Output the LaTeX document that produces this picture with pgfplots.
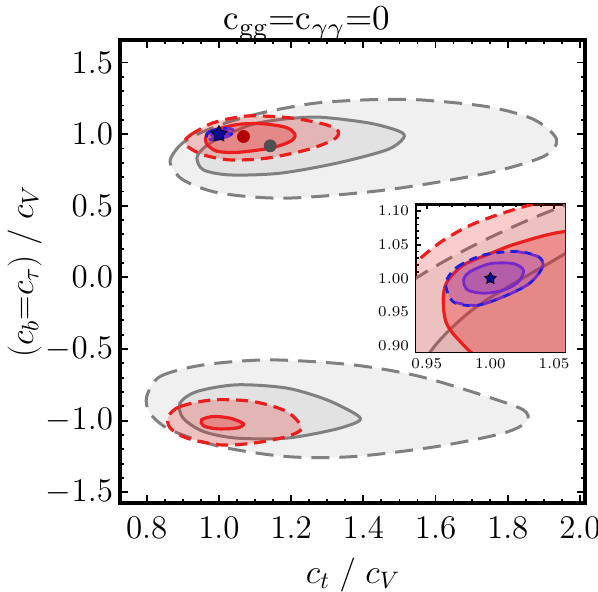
\RequirePackage{fix-cm}
\documentclass[border=0pt]{standalone}
\usepackage{graphicx}
\usepackage{pgfplots}
\usepackage{pgfplotstable}
\pgfplotsset{compat=1.18}

\definecolor{gline}{RGB}{128,128,128}
\definecolor{gfillA}{RGB}{240,240,240}
\definecolor{gfillB}{RGB}{226,226,226}
\definecolor{rline}{RGB}{235,30,30}
\definecolor{bline}{RGB}{30,30,220}
\definecolor{pline}{RGB}{120,40,200}
\definecolor{starblue}{RGB}{10,10,150}
\definecolor{rdot}{RGB}{180,0,0}
\definecolor{gdot}{RGB}{80,80,80}

% filled five-pointed star
\pgfdeclareplotmark{fstar}{%
  \pgfpathmoveto{\pgfpointpolar{90}{\pgfplotmarksize}}%
  \pgfpathlineto{\pgfpointpolar{126}{0.55\pgfplotmarksize}}%
  \pgfpathlineto{\pgfpointpolar{162}{\pgfplotmarksize}}%
  \pgfpathlineto{\pgfpointpolar{198}{0.55\pgfplotmarksize}}%
  \pgfpathlineto{\pgfpointpolar{234}{\pgfplotmarksize}}%
  \pgfpathlineto{\pgfpointpolar{270}{0.55\pgfplotmarksize}}%
  \pgfpathlineto{\pgfpointpolar{306}{\pgfplotmarksize}}%
  \pgfpathlineto{\pgfpointpolar{342}{0.55\pgfplotmarksize}}%
  \pgfpathlineto{\pgfpointpolar{18}{\pgfplotmarksize}}%
  \pgfpathlineto{\pgfpointpolar{54}{0.55\pgfplotmarksize}}%
  \pgfpathclose
  \pgfusepathqfillstroke
}

% contours, upper branch
\pgfplotstableread{
x y
0.865 0.797
0.878 0.880
0.903 0.945
0.943 1.002
0.987 1.049
1.039 1.094
1.105 1.140
1.180 1.180
1.280 1.220
1.420 1.240
1.557 1.239
1.742 1.192
1.870 1.105
1.935 0.965
1.900 0.845
1.742 0.727
1.465 0.611
1.188 0.553
1.003 0.588
0.901 0.680
}\ugd
\pgfplotstableread{
x y
0.939 0.832
0.954 0.894
0.987 0.955
1.039 1.015
1.095 1.070
1.180 1.105
1.280 1.118
1.419 1.076
1.502 1.017
1.511 0.971
1.465 0.890
1.326 0.797
1.169 0.727
1.031 0.715
0.957 0.750
}\ugs
\pgfplotstableread{
x y
0.906 0.955
0.922 0.995
0.943 1.027
0.961 1.054
0.982 1.077
1.005 1.094
1.040 1.113
1.095 1.128
1.206 1.111
1.299 1.064
1.331 1.017
1.317 0.960
1.243 0.890
1.132 0.832
1.031 0.820
0.957 0.855
0.915 0.910
}\urd
\pgfplotstableread{
x y
0.963 0.970
0.966 0.995
0.979 1.020
1.000 1.037
1.021 1.052
1.060 1.070
1.123 1.072
1.188 1.045
1.211 0.994
1.197 0.948
1.142 0.902
1.049 0.872
0.995 0.880
0.974 0.911
0.965 0.936
}\urs
\pgfplotstableread{
x y
0.965 0.993
0.974 1.017
0.995 1.035
1.021 1.040
1.038 1.032
1.041 1.017
1.031 0.993
1.013 0.975
0.990 0.960
0.971 0.965
}\bd
\pgfplotstableread{
x y
1.021 1.040
1.038 1.032
1.041 1.017
1.031 0.993
1.013 0.975
0.990 0.960
0.971 0.965
}\bdp
\pgfplotstableread{
x y
0.979 0.998
0.984 1.010
1.000 1.022
1.018 1.022
1.026 1.012
1.022 0.995
1.011 0.983
0.995 0.978
0.982 0.983
}\ps

% contours, lower branch
\pgfplotstableread{
x y
0.800 -0.832
0.837 -0.692
0.957 -0.611
1.142 -0.576
1.372 -0.611
1.557 -0.692
1.742 -0.832
1.843 -0.925
1.853 -1.006
1.788 -1.087
1.603 -1.181
1.372 -1.251
1.188 -1.251
1.003 -1.181
0.865 -1.064
0.809 -0.948
}\lgd
\pgfplotstableread{
x y
0.892 -0.878
0.939 -0.797
1.049 -0.750
1.188 -0.773
1.299 -0.855
1.382 -0.960
1.386 -1.006
1.317 -1.064
1.188 -1.122
1.049 -1.122
0.957 -1.076
0.901 -0.983
}\lgs
\pgfplotstableread{
x y
0.860 -0.971
0.892 -0.902
0.984 -0.855
1.095 -0.867
1.188 -0.937
1.229 -1.052
1.188 -1.111
1.095 -1.157
1.003 -1.169
0.911 -1.122
0.865 -1.052
}\lrd
\pgfplotstableread{
x y
0.952 -0.994
0.984 -0.971
1.031 -0.983
1.068 -1.022
1.049 -1.052
0.994 -1.057
0.957 -1.036
}\lrs

\pgfplotsset{
  gd/.style={smooth cycle, draw=gline, line width=1.5pt, dash pattern=on 9pt off 5pt, fill=gfillA},
  gs/.style={smooth cycle, draw=gline, line width=1.5pt, fill=gfillB},
  rd/.style={smooth cycle, draw=rline, line width=1.6pt, dash pattern=on 6pt off 3.5pt, fill=rline, fill opacity=0.22},
  rs/.style={smooth cycle, draw=rline, line width=1.6pt, fill=rline, fill opacity=0.3},
  bdash/.style={smooth cycle, draw=bline, line width=1.4pt, dash pattern=on 4pt off 3pt, fill=pline, fill opacity=0.25},
  pdash/.style={smooth, draw=pline, line width=1.4pt, dash pattern=on 4pt off 3pt},
  psol/.style={smooth cycle, draw=pline, line width=1.4pt, fill=pline, fill opacity=0.3},
  frame/.style={
    scale only axis,
    tick align=inside,
    every tick/.style={black, line width=0.9pt},
  },
}

\begin{document}
\begin{tikzpicture}
\useasboundingbox (-60pt,-44.5pt) rectangle (239pt,251.5pt);
\begin{axis}[
  frame,
  name=main,
  at={(0,0)}, anchor=south west,
  width=232.5pt, height=231.5pt,
  xmin=0.726, xmax=2.014,
  ymin=-1.575, ymax=1.657,
  xtick={0.8,1.0,...,2.0},
  ytick={-1.5,-1.0,...,1.5},
  minor x tick num=3,
  minor y tick num=4,
  major tick length=4pt,
  minor tick length=2.2pt,
  axis line style={line width=1.6pt},
  xticklabel style={font=\fontsize{16.5}{18}\selectfont, yshift=-3.5pt,
    /pgf/number format/.cd, fixed, fixed zerofill, precision=1},
  yticklabel style={font=\fontsize{16.5}{18}\selectfont,
    /pgf/number format/.cd, fixed, fixed zerofill, precision=1},
  xlabel={$c_t\;/\;c_V$},
  ylabel={$(c_b{=}c_\tau)\;/\;c_V$},
  xlabel style={font=\fontsize{17}{19}\selectfont, at={(axis description cs:0.501,-0.155)}, anchor=center},
  ylabel style={font=\fontsize{17}{19}\selectfont, at={(axis description cs:-0.205,0.5)}, anchor=center},
]
  \addplot[gd] table {\ugd};
  \addplot[gs] table {\ugs};
  \addplot[gd] table {\lgd};
  \addplot[gs] table {\lgs};
  \addplot[rd] table {\urd};
  \addplot[rs] table {\urs};
  \addplot[rd] table {\lrd};
  \addplot[rs] table {\lrs};
  \addplot[bdash] table {\bd};
  \addplot[pdash] table {\bdp};
  \addplot[psol] table {\ps};
  \addplot[only marks, mark=*, mark size=3pt, mark options={fill=gdot, draw=gdot}] coordinates {(1.142,0.918)};
  \addplot[only marks, mark=*, mark size=3pt, mark options={fill=rdot, draw=rdot}] coordinates {(1.068,0.983)};
  \addplot[only marks, mark=fstar, mark size=4.2pt, mark options={fill=starblue, draw=black, line width=0.4pt}] coordinates {(1,1)};
\end{axis}
\node[anchor=base, inner sep=0pt] at (93.5pt,236.5pt)
  {\scalebox{1.75}{c\textsubscript{gg}=c\textsubscript{$\gamma\gamma$}=0}};

\begin{axis}[
  frame,
  at={(148pt,75.6pt)}, anchor=south west,
  width=74.5pt, height=73.7pt,
  xmin=0.9416, xmax=1.0586,
  ymin=0.891, ymax=1.110,
  xtick={0.95,1.00,1.05},
  ytick={0.90,0.95,...,1.10},
  minor x tick num=4,
  minor y tick num=4,
  major tick length=2.5pt,
  minor tick length=1.4pt,
  axis line style={line width=1.3pt},
  axis background/.style={fill=white},
  xticklabel style={font=\fontsize{7.5}{9}\selectfont,
    /pgf/number format/.cd, fixed, fixed zerofill, precision=2},
  yticklabel style={font=\fontsize{7.5}{9}\selectfont,
    /pgf/number format/.cd, fixed, fixed zerofill, precision=2},
]
  \addplot[gd] table {\ugd};
  \addplot[gs] table {\ugs};
  \addplot[rd] table {\urd};
  \addplot[rs] table {\urs};
  \addplot[bdash] table {\bd};
  \addplot[pdash] table {\bdp};
  \addplot[psol] table {\ps};
  \addplot[only marks, mark=fstar, mark size=3pt, mark options={fill=starblue, draw=black, line width=0.4pt}] coordinates {(1,1)};
\end{axis}
\end{tikzpicture}
\end{document}
